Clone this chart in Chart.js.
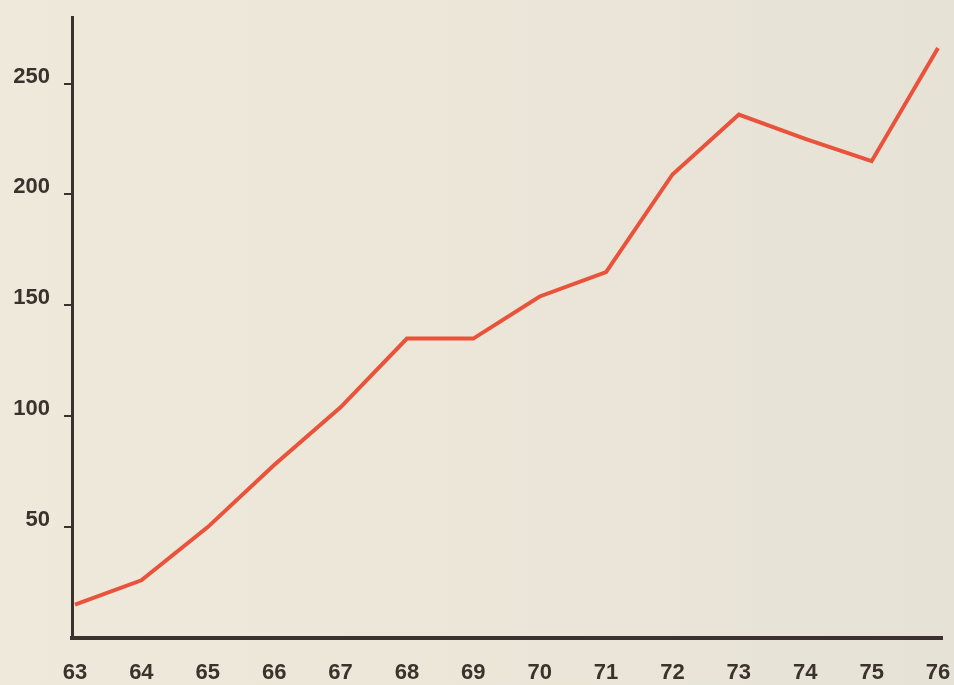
<!DOCTYPE html>
<html>
<head>
<meta charset="utf-8">
<script src="https://cdn.jsdelivr.net/npm/chart.js@4.4.1/dist/chart.umd.min.js"></script>
<style>
  html, body { margin: 0; padding: 0; background: #ece6d8; }
  #wrap { width: 954px; height: 685px; }
</style>
</head>
<body>
<div id="wrap"><canvas id="myChart" width="954" height="685"></canvas></div>
<script>
const years = [63, 64, 65, 66, 67, 68, 69, 70, 71, 72, 73, 74, 75, 76];
const values = [15, 26, 50, 78, 104, 135, 135, 154, 165, 209, 236, 225, 215, 266];
const yTicks = [50, 100, 150, 200, 250];

const ink = "#3a322c";

// paper background
const paper = {
  id: "paper",
  beforeDraw: (chart) => {
    const c = chart.ctx;
    const g = c.createLinearGradient(0, 0, chart.width, 0);
    g.addColorStop(0, "#efe9db");
    g.addColorStop(0.5, "#ebe6d8");
    g.addColorStop(1, "#e6e2d6");
    c.save();
    c.fillStyle = g;
    c.fillRect(0, 0, chart.width, chart.height);
    c.restore();
  }
};

const ctx = document.getElementById("myChart");
const chart = new Chart(ctx, {
  type: "line",
  data: {
    datasets: [{
      data: years.map((y, i) => ({ x: y, y: values[i] })),
      borderColor: "#e9533b",
      borderWidth: 4,
      pointRadius: 0,
      tension: 0,
      fill: false
    }]
  },
  options: {
    responsive: false,
    animation: false,
    layout: { padding: { top: 17, right: 12, left: 0, bottom: 0 } },
    plugins: { legend: { display: false }, tooltip: { enabled: false } },
    scales: {
      x: {
        type: "linear",
        min: 62.955,
        max: 76.06,
        afterBuildTicks: (s) => { s.ticks = years.map(v => ({ value: v })); },
        afterFit: (s) => { s.height = 47; s.paddingLeft = 0; s.paddingRight = 0; },
        grid: { drawOnChartArea: false, drawTicks: false },
        border: { display: true, color: ink, width: 4 },
        ticks: {
          padding: 22,
          color: ink,
          maxRotation: 0,
          autoSkip: false,
          font: { family: "'Liberation Sans', Arial, sans-serif", size: 22, weight: "bold" },
          callback: (v) => String(v)
        }
      },
      y: {
        min: 0,
        max: 280,
        afterBuildTicks: (s) => { s.ticks = yTicks.map(v => ({ value: v })); },
        afterFit: (s) => { s.width = 72; s.paddingTop = 0; s.paddingBottom = 0; },
        grid: { drawOnChartArea: false, drawTicks: true, tickLength: 8, color: ink, lineWidth: 2 },
        border: { display: true, color: ink, width: 3 },
        ticks: {
          padding: 14,
          labelOffset: -7,
          color: ink,
          font: { family: "'Liberation Sans', Arial, sans-serif", size: 22, weight: "bold" }
        }
      }
    }
  },
  plugins: [paper]
});
</script>
</body>
</html>
